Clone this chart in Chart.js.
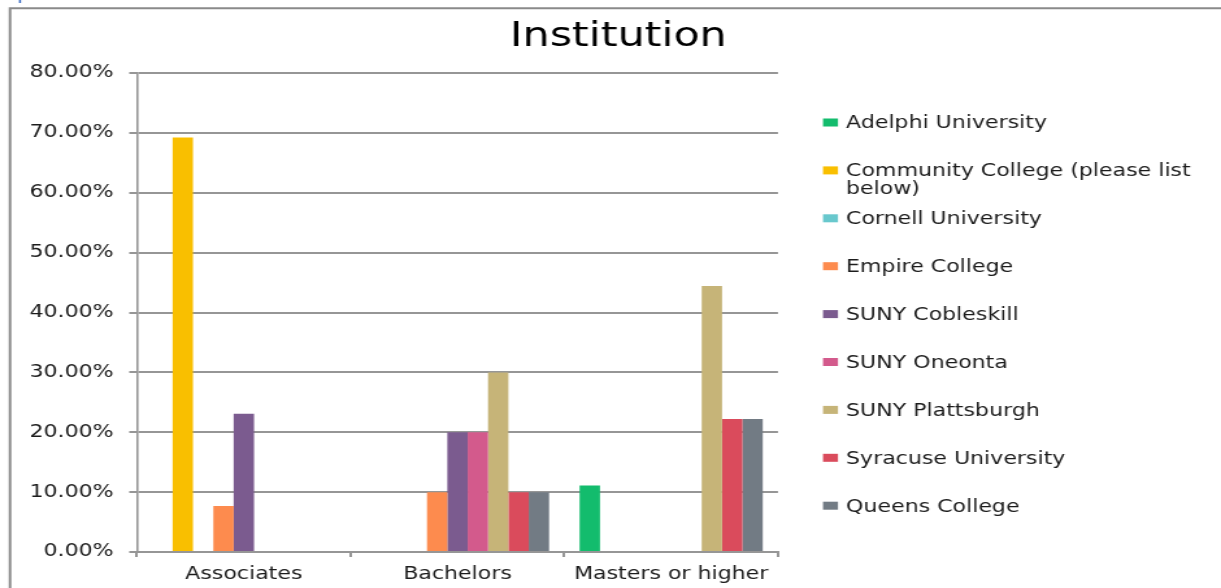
<!DOCTYPE html>
<html>
<head>
<meta charset="utf-8">
<script src="https://cdn.jsdelivr.net/npm/chart.js@4.4.1/dist/chart.umd.min.js"></script>
<style>
  html, body { margin: 0; padding: 0; background: #ffffff; overflow: hidden; }
  #wrap { position: absolute; left: 0; top: 0; width: 1221px; height: 588px; overflow: hidden; }
  #c { position: absolute; left: 0; top: 0; transform-origin: 0 0; }
</style>
</head>
<body>
<div id="wrap"><canvas id="c" width="940" height="588"></canvas></div>
<script>
// ---- data ----
const titleText = 'Institution';
const categories = ['Associates', 'Bachelors', 'Masters or higher'];
const seriesNames = [
  'Adelphi University',
  'Community College (please list below)',
  'Cornell University',
  'Empire College',
  'SUNY Cobleskill',
  'SUNY Oneonta',
  'SUNY Plattsburgh',
  'Syracuse University',
  'Queens College'
];
const adelphi      = [0, 0, 11.11];
const community    = [69.23, 0, 0];
const cornell      = [0, 0, 0];
const empire       = [7.69, 10, 0];
const cobleskill   = [23.08, 20, 0];
const oneonta      = [0, 20, 0];
const plattsburgh  = [0, 30, 44.44];
const syracuse     = [0, 10, 22.22];
const queens       = [0, 10, 22.22];
const yTickMin = 0, yTickMax = 80, yTickStep = 10;

// ---- styles ----
const seriesColors = ['#13BC6D', '#F9BF00', '#68C8CD', '#FD8B4E', '#7B5B8F', '#D35A8C', '#C6B478', '#DA4B5C', '#727B84'];
const seriesValues = [adelphi, community, cornell, empire, cobleskill, oneonta, plattsburgh, syracuse, queens];

const W = 940, H = 588, REF_W = 1221;
const SX = REF_W / W;
const PAD_L = 12;
const canvas = document.getElementById('c');
canvas.style.transform = 'scaleX(' + SX + ')';

const FONT = "'DejaVu Sans', 'Liberation Sans', sans-serif";
const TEXT = '#1c1c1c';
const GRID = '#969696';

const frameAndLegend = {
  id: 'frameAndLegend',
  beforeDraw(chart) {
    const ctx = chart.ctx;
    ctx.save();
    ctx.fillStyle = '#ffffff';
    ctx.fillRect(0, 0, W, H);
    ctx.strokeStyle = '#8a8a8a';
    ctx.lineWidth = 2;
    ctx.beginPath();
    ctx.moveTo(7.7, H);
    ctx.lineTo(7.7, 8.3);
    ctx.lineTo(W, 8.3);
    ctx.stroke();
    ctx.fillStyle = '#3b6cc4';
    ctx.fillRect(19 / SX, 0, 2 / SX, 3);
    ctx.restore();
  },
  afterDraw(chart) {
    const ctx = chart.ctx;
    ctx.save();
    ctx.font = '17px ' + FONT;
    ctx.textBaseline = 'middle';
    ctx.textAlign = 'left';
    const boxX = 823 / SX, boxW = 15 / SX, boxH = 8;
    const textX = 846 / SX;
    const maxW = (1215 - 846) / SX;
    const y0 = 122.5, step = 47.9, lineStep = 18;
    chart.data.datasets.forEach((ds, i) => {
      const y = y0 + step * i;
      ctx.fillStyle = ds.backgroundColor;
      ctx.fillRect(boxX, y - boxH / 2, boxW, boxH);
      const words = ds.label.split(' ');
      const lines = [];
      let cur = '';
      words.forEach(w => {
        const t = cur ? cur + ' ' + w : w;
        if (ctx.measureText(t).width > maxW && cur) { lines.push(cur); cur = w; }
        else cur = t;
      });
      if (cur) lines.push(cur);
      ctx.fillStyle = TEXT;
      lines.forEach((ln, k) => ctx.fillText(ln, textX, y + 1.5 + k * lineStep));
    });
    ctx.restore();
  }
};

new Chart(canvas, {
  type: 'bar',
  data: {
    labels: categories,
    datasets: seriesNames.map((name, i) => ({
      label: name,
      data: seriesValues[i],
      backgroundColor: seriesColors[i],
      borderWidth: 0,
      barPercentage: 1.0,
      categoryPercentage: 9 / 10.5
    }))
  },
  options: {
    responsive: false,
    animation: false,
    devicePixelRatio: 1,
    layout: { padding: { left: PAD_L, right: 0, top: 0, bottom: 0 } },
    plugins: {
      legend: { display: false },
      tooltip: { enabled: false },
      title: {
        display: true,
        text: titleText,
        color: '#000000',
        font: { family: FONT, size: 33, weight: 'normal', lineHeight: 1.2 },
        padding: { top: 18, bottom: 15.4 }
      }
    },
    scales: {
      x: {
        position: 'bottom',
        grid: { display: true, drawOnChartArea: false, drawTicks: true, tickLength: 5, color: GRID, lineWidth: 2, offset: true },
        border: { display: true, color: GRID, width: 2 },
        ticks: { color: TEXT, font: { family: FONT, size: 17 }, padding: 7, maxRotation: 0, autoSkip: false },
        afterFit(s) { s.height = H - 552; }
      },
      y: {
        position: 'left',
        min: yTickMin,
        max: yTickMax,
        ticks: {
          stepSize: yTickStep,
          color: TEXT,
          font: { family: FONT, size: 17 },
          padding: 12,
          callback: v => v.toFixed(2) + '%'
        },
        grid: { color: GRID, lineWidth: 2, drawTicks: true, tickLength: 6 },
        border: { display: true, color: GRID, width: 1.6 },
        afterFit(s) { s.width = 137 / SX - PAD_L; }
      },
      yR: {
        type: 'linear',
        position: 'right',
        display: true,
        grid: { display: false, drawTicks: false },
        border: { display: false },
        ticks: { display: false },
        afterFit(s) { s.width = W - 778 / SX; }
      }
    }
  },
  plugins: [frameAndLegend]
});
</script>
</body>
</html>
